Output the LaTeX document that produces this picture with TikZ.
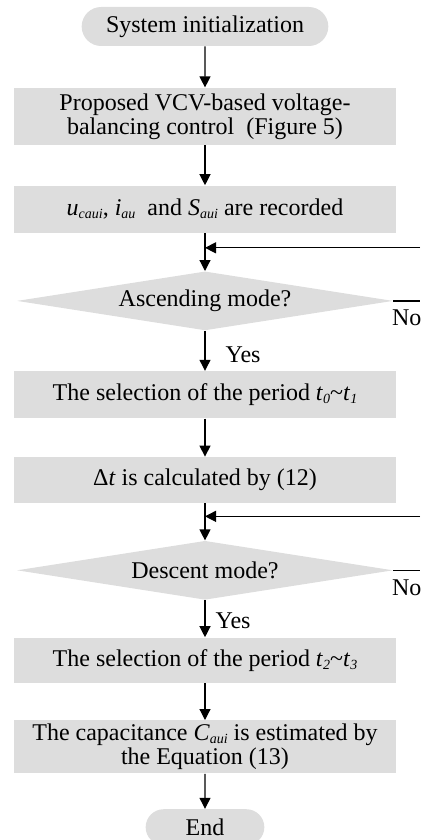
\documentclass[tikz,border=0pt]{standalone}
\usepackage{fontspec}
\setmainfont{Liberation Serif}
\usepackage{xcolor}
\usepackage{tikz}
\usetikzlibrary{shapes.geometric, shapes.misc, arrows.meta, positioning, calc}
\definecolor{stepfill}{RGB}{221,221,221}
\newcommand{\lowsub}[1]{\raisebox{-0.3ex}{\scriptsize\itshape #1}}
\newcommand{\flowfont}{\fontsize{12}{12}\selectfont}
\tikzset{
    terminal/.style={
        rounded rectangle,
        fill=stepfill,
        text centered,
        minimum height=19.5pt,
        font=\flowfont
    },
    process/.style={
        rectangle,
        fill=stepfill,
        align=center,
        minimum width=191pt,
        minimum height=23.5pt,
        font=\flowfont
    },
    decision/.style={
        diamond,
        fill=stepfill,
        aspect=6.4,
        inner sep=0pt,
        minimum width=188pt,
        minimum height=29.5pt,
        font=\flowfont
    },
    connection/.style={
        draw=black,
        line width=0.6pt,
        -{Triangle[length=5.5pt,width=5.5pt]}
    },
    plainline/.style={
        draw=black,
        line width=0.6pt
    },
    tag/.style={
        inner sep=1pt,
        font=\flowfont
    }
}
\begin{document}
\begin{tikzpicture}

\useasboundingbox (0,0) rectangle (210pt,-420pt);

% Main chain
\node[terminal, minimum width=130pt] (init) at (102.5pt,-13.25pt) {System initialization};
\node[process, minimum height=28.5pt, inner ysep=2pt, below=20.5pt of init] (vcv) {Proposed VCV-based voltage-\\balancing control \ (Figure 5)};
\node[process, below=20pt of vcv] (rec) {\textit{u}\lowsub{caui}, \textit{i}\lowsub{au} \ and \textit{S}\lowsub{aui} are recorded};
\node[decision, below=19pt of rec] (asc) {Ascending mode?};
\node[process, below=20pt of asc] (sel1) {The selection of the period \textit{t}\lowsub{0}\textasciitilde\textit{t}\lowsub{1}};
\node[process, minimum height=23pt, below=19pt of sel1] (dt) {Δ\textit{t} is calculated by (12)};
\node[decision, below=18.5pt of dt] (desc) {Descent mode?};
\node[process, minimum height=22.5pt, below=18.5pt of desc] (sel2) {The selection of the period \textit{t}\lowsub{2}\textasciitilde\textit{t}\lowsub{3}};
\node[process, minimum height=26.5pt, inner ysep=1.5pt, below=18.5pt of sel2] (cap) {The capacitance \textit{C}\lowsub{aui} is estimated by\\the Equation (13)};
\node[terminal, minimum width=66pt, minimum height=18pt, below=17.5pt of cap] (stop) {End};

% Loop points
\coordinate (rightedge) at (210pt,0);
\coordinate (join1) at ($(rec.south)!0.39!(asc.north)$);
\coordinate (join2) at ($(dt.south)!0.35!(desc.north)$);

% Connections
\draw[connection] (init) -- (vcv);
\draw[connection] (vcv) -- (rec);
\draw[connection] (rec) -- (asc);
\draw[connection] (join1 -| rightedge) -- (join1);
\draw[plainline] (asc.east) -- node[tag, pos=0, anchor=base west, xshift=-2pt, yshift=-12.5pt] {No} (asc.east -| rightedge);
\draw[connection] (asc) -- node[tag, pos=0.6, anchor=west, xshift=9pt] {Yes} (sel1);
\draw[connection] (sel1) -- (dt);
\draw[connection] (dt) -- (desc);
\draw[connection] (join2 -| rightedge) -- (join2);
\draw[plainline] (desc.east) -- node[tag, pos=0, anchor=base west, xshift=-2pt, yshift=-12.5pt] {No} (desc.east -| rightedge);
\draw[connection] (desc) -- node[tag, pos=0.55, anchor=west, xshift=4pt] {Yes} (sel2);
\draw[connection] (sel2) -- (cap);
\draw[connection] (cap) -- (stop);

\end{tikzpicture}
\end{document}
